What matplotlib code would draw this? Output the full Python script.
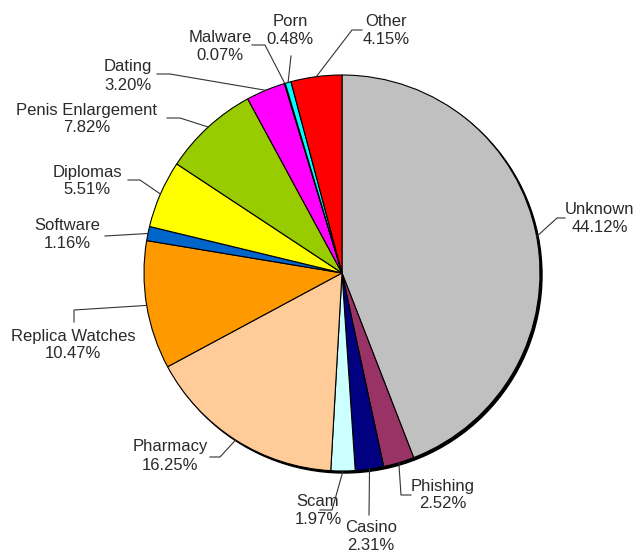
import numpy as np
import matplotlib
matplotlib.use("Agg")
from matplotlib import pyplot as plt
from matplotlib.patches import Circle

labels = ["Unknown", "Phishing", "Casino", "Scam", "Pharmacy", "Replica Watches",
          "Software", "Diplomas", "Penis Enlargement", "Dating", "Malware", "Porn", "Other"]
shares = [44.12, 2.52, 2.31, 1.97, 16.25, 10.47, 1.16, 5.51, 7.82, 3.20, 0.07, 0.48, 4.15]
colors = ["#C0C0C0", "#993366", "#000080", "#CCFFFF", "#FFCC99", "#FF9900",
          "#0066CC", "#FFFF00", "#99CC00", "#FF00FF", "#000000", "#00FFFF", "#FF0000"]

# layout in pixel coords (y measured from top): text centre, elbow point(s)
text_pos = [(600, 219), (443, 495), (371, 536), (318, 510), (170, 456), (73, 345),
            (67, 234), (87, 181), (87, 119), (128, 76), (220, 47), (290, 31), (386, 31)]
elbows = [[(557, 218), (565, 218)], [(401, 495), (411, 495)], [(369, 515)], [(332, 510), (320, 510)],
          [(220, 457), (210, 457)], [(74, 310), (74, 322)], [(105, 236)], [(140, 180), (128, 180)],
          [(180, 118), (167, 118)], [(170, 74), (157, 74)], [(265, 45), (252, 45)], [(291, 56)],
          [(352, 30), (362, 30)]]

W, H = 634, 555
cx, cy, r = 342, 273, 198

fig = plt.figure(figsize=(W / 100, H / 100), dpi=100)
ax = fig.add_axes([0, 0, 1, 1])

# shadow rim
ax.add_patch(Circle((cx + 2, H - cy - 2), r, color="black", zorder=0))
ax.pie(shares, colors=colors, startangle=90, counterclock=False, center=(cx, H - cy),
       radius=r, wedgeprops=dict(edgecolor="black", linewidth=0.8), frame=True)
ax.set_xlim(0, W)
ax.set_ylim(0, H)
ax.set_aspect("equal")
ax.axis("off")

total = sum(shares)
cum = 0
for lab, v, tp, el in zip(labels, shares, text_pos, elbows):
    mid = np.deg2rad(90 - 360 * (cum + v / 2) / total)
    cum += v
    x0 = cx + r * np.cos(mid)
    y0 = (H - cy) + r * np.sin(mid)
    xs = [x0] + [p[0] for p in el]
    ys = [y0] + [H - p[1] for p in el]
    ax.plot(xs, ys, color="#333333", lw=0.8, zorder=5)
    ax.text(tp[0], H - tp[1], f"{lab}\n{v:.2f}%", ha="center", va="center",
            fontsize=12, family="Liberation Sans", color="#2a2a2a", linespacing=1.25)

fig.savefig("out.png", dpi=100, facecolor="white")
